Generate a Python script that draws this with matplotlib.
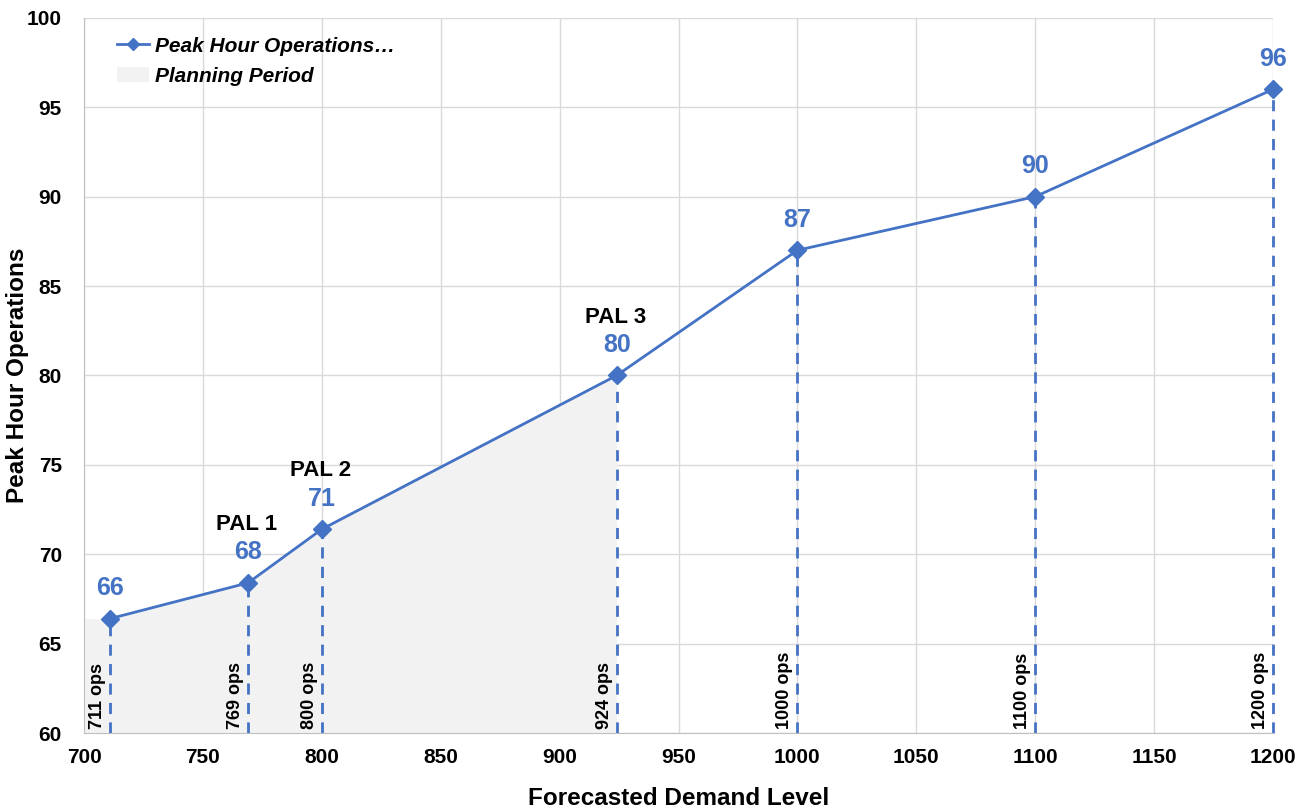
import matplotlib.pyplot as plt
from matplotlib.lines import Line2D
from matplotlib.patches import Patch

plt.rcParams["font.family"] = ["Liberation Sans", "DejaVu Sans"]

demand = [711, 769, 800, 924, 1000, 1100, 1200]
peak_ops = [66.4, 68.4, 71.4, 80.0, 87.0, 90.0, 96.0]
pal_names = {769: "PAL 1", 800: "PAL 2", 924: "PAL 3"}

# planning period shading runs from the axis start to PAL 3
plan_x = [700, 711, 769, 800, 924]
plan_y = [66.4, 66.4, 68.4, 71.4, 80.0]

BLUE = "#4472C4"
GRID = "#D9D9D9"

fig = plt.figure(figsize=(13.07, 8.10), dpi=100)
ax = fig.add_axes([0.0643, 0.095, 0.9097, 0.883])

ax.fill_between(plan_x, 60, plan_y, color="#F2F2F2", lw=0, zorder=1)

for x, y in zip(demand, peak_ops):
    ax.plot([x, x], [60, y], color=BLUE, lw=2, ls=(0, (4, 3)), zorder=2,
            clip_on=False)
    ax.annotate(f"{x} ops", (x, 60), xytext=(-3, 3), textcoords="offset points",
                rotation=90, ha="right", va="bottom", fontsize=13,
                fontweight="bold", color="black", zorder=4)
    ax.annotate(f"{y:.0f}", (x, y), xytext=(0, 22), textcoords="offset points",
                ha="center", va="center", fontsize=18, fontweight="bold",
                color=BLUE, zorder=4)
    if x in pal_names:
        ax.annotate(pal_names[x], (x, y), xytext=(-1, 42), textcoords="offset points",
                    ha="center", va="center", fontsize=16, fontweight="bold",
                    color="black", zorder=4)

ax.plot(demand, peak_ops, color=BLUE, lw=2, marker="D", markersize=9,
        zorder=3, clip_on=False)

ax.set_xlim(700, 1200)
ax.set_ylim(60, 100)
ax.set_xticks(range(700, 1201, 50))
ax.set_yticks(range(60, 101, 5))
ax.grid(True, color=GRID, lw=1)
ax.set_axisbelow(True)
for side in ["top", "right"]:
    ax.spines[side].set_visible(False)
for side in ["left", "bottom"]:
    ax.spines[side].set_color("#BFBFBF")
ax.tick_params(length=0, labelsize=15)
ax.tick_params(axis="x", pad=11)
ax.tick_params(axis="y", pad=16)
for lbl in ax.get_xticklabels() + ax.get_yticklabels():
    lbl.set_fontweight("bold")

ax.set_xlabel("Forecasted Demand Level", fontsize=17.5, fontweight="bold", labelpad=14)
ax.set_ylabel("Peak Hour Operations", fontsize=17.5, fontweight="bold", va="center")
ax.yaxis.set_label_coords(-0.056, 0.5)

handles = [
    Line2D([], [], color=BLUE, lw=2, marker="D", markersize=6),
    Patch(facecolor="#F2F2F2", edgecolor="none"),
]
ax.legend(handles, ["Peak Hour Operations\u2026", "Planning Period"],
          loc="upper left", bbox_to_anchor=(0.012, 1.0), frameon=False,
          prop={"weight": "bold", "style": "italic", "size": 15},
          handlelength=1.55, handletextpad=0.25, labelspacing=0.55)

fig.savefig("out.png", dpi=100)
